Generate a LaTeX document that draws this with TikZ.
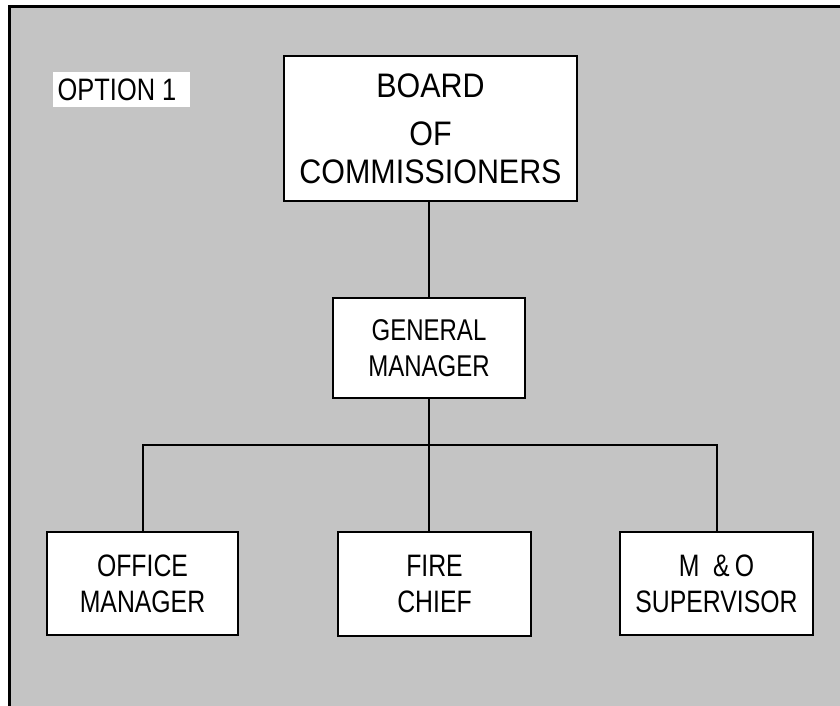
\documentclass[tikz,border=0pt]{standalone}
\usepackage{fontspec}
\newfontfamily\chartfont[FakeStretch=0.80]{Liberation Sans}
\newfontfamily\boardfont[FakeStretch=0.895]{Liberation Sans}
\newfontfamily\optfont[FakeStretch=0.82]{Liberation Sans}
\begin{document}
\begin{tikzpicture}[x=1pt,y=-1pt,
  unit/.style={draw=black, line width=2.6pt, fill=white, inner sep=0pt, align=center, font=\chartfont\fontsize{31}{36}\selectfont},
  link/.style={draw=black, line width=2pt}]
\useasboundingbox (0,0) rectangle (840,706);
\fill[white] (0,0) rectangle (840,706);
\fill[black!23] (9,7) rectangle (840,706);
\draw[line width=3pt] (9,706) -- (9,7) -- (840,7);
% label
\fill[white] (53,72) rectangle (190,107);
\node[inner sep=0pt, font=\optfont\fontsize{31}{34}\selectfont] (opt) at (117,89.5) {OPTION 1};
% boxes
\node[unit, minimum width=293pt, minimum height=145pt, font=\boardfont\fontsize{34}{38}\selectfont] (board) at (430.5,128.5) {BOARD\\[10pt]OF\\COMMISSIONERS};
\node[unit, minimum width=192pt, minimum height=100pt, font=\chartfont\fontsize{30}{36}\selectfont] (gm) at (429,348) {GENERAL\\MANAGER};
\node[unit, minimum width=191pt, minimum height=103pt] (office) at (142.5,583.5) {OFFICE\\MANAGER};
\node[unit, minimum width=193pt, minimum height=104pt] (fire) at (434.5,584) {FIRE\\CHIEF};
\node[unit, minimum width=193pt, minimum height=103pt] (mo) at (716.5,583.5) {M\ \ \&\,O\\SUPERVISOR};
% connectors
\coordinate (bus) at (430,445);
\draw[link] (board.south -| gm.north) -- (gm.north);
\draw[link] (gm.south) -- (gm.south |- fire.north);
\draw[link] (office.north) |- (bus) -| (mo.north);
\end{tikzpicture}
\end{document}
